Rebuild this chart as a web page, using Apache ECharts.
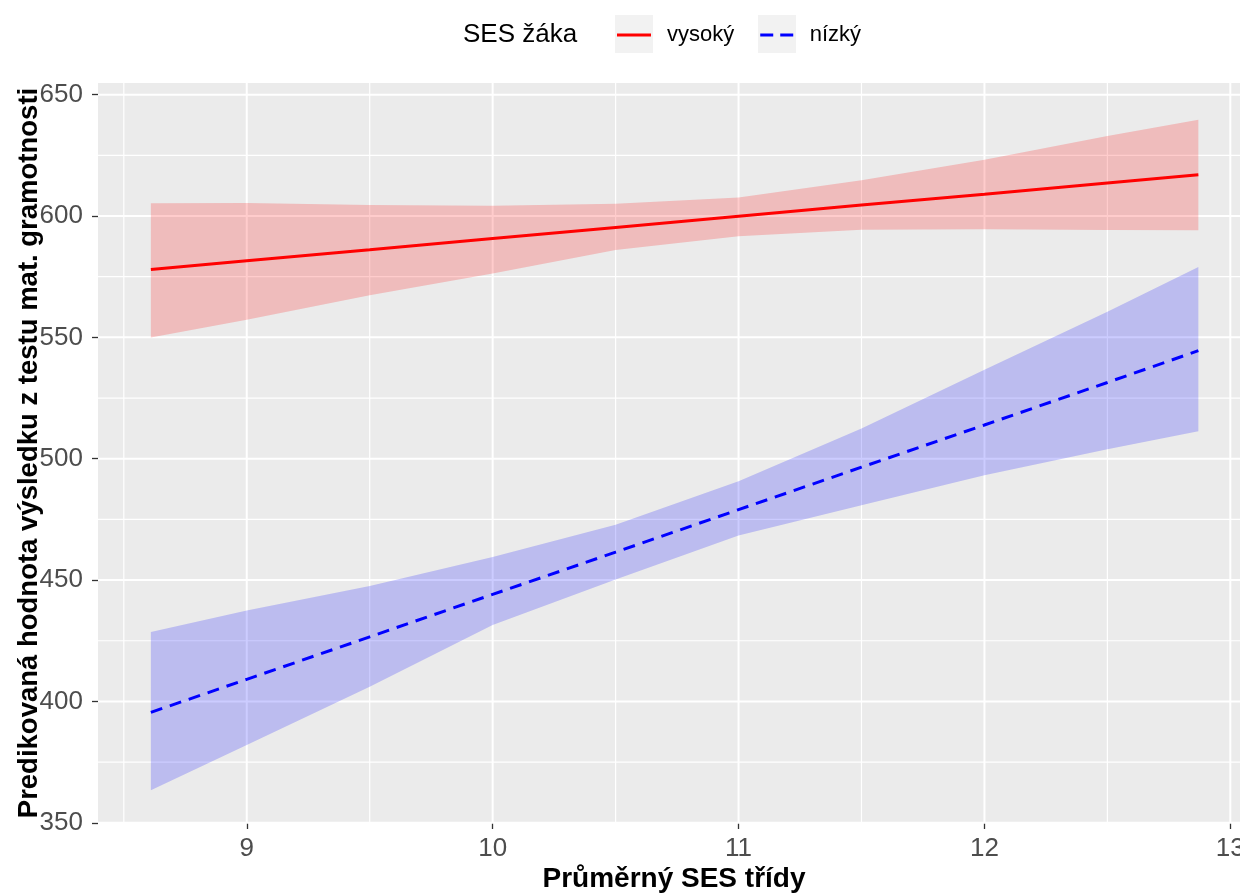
<!DOCTYPE html>
<html>
<head>
<meta charset="utf-8">
<script src="https://cdn.jsdelivr.net/npm/echarts@6/dist/echarts.min.js"></script>
<style>
  html, body { margin: 0; padding: 0; background: #ffffff; }
  #chart { width: 1240px; height: 894px; }
</style>
</head>
<body>
<div id="chart"></div>
<script>
// Predicted maths score by class-average SES, for high and low pupil SES
const xs        = [8.61, 9.0, 9.5, 10.0, 10.5, 11.0, 11.5, 12.0, 12.5, 12.87];

const highFit   = [578.0, 581.6, 586.1, 590.7, 595.3, 599.9, 604.5, 609.0, 613.6, 617.0];
const highLower = [549.9, 557.3, 567.3, 576.3, 586.0, 591.7, 594.3, 594.5, 594.2, 594.1];
const highUpper = [605.3, 605.4, 604.5, 604.2, 605.0, 607.6, 614.7, 623.2, 633.0, 639.7];

const lowFit    = [395.5, 409.1, 426.6, 444.1, 461.5, 479.0, 496.5, 513.9, 531.4, 544.5];
const lowLower  = [363.4, 382.0, 406.0, 431.5, 450.2, 468.4, 480.8, 493.2, 503.9, 511.3];
const lowUpper  = [428.6, 437.5, 447.5, 459.5, 472.8, 490.7, 512.4, 536.7, 560.6, 579.0];

const seriesNames = ['vysoký', 'nízký'];
const legendTitle = 'SES žáka';
const xTitle = 'Průměrný SES třídy';
const yTitle = 'Predikovaná hodnota výsledku z testu mat. gramotnosti';

const xTicks = [9, 10, 11, 12, 13];
const xMinor = [8.5, 9.5, 10.5, 11.5, 12.5];
const yTicks = [350, 400, 450, 500, 550, 600, 650];
const yMinor = [375, 425, 475, 525, 575, 625];

const X_MIN = 8.395, X_MAX = 13.08;
const Y_MIN = 349.9, Y_MAX = 654.8;

const FONT = 'Liberation Sans, Arial, sans-serif';

// legend keys: a solid bar and a two-dash bar
const SOLID_KEY = 'path://M0,0H34V3H0Z';
const DASH_KEY = 'path://M0,0H13V3H0Z M20,0H33V3H20Z';

// white panel grid lines, major and minor
function gridLines(values, isX, width) {
  return {
    type: 'custom', silent: true, z: 1,
    data: values.map(v => [v]),
    encode: isX ? { x: 0 } : { y: 0 },
    renderItem(params, api) {
      const cs = params.coordSys;
      const v = api.value(0);
      if (isX) {
        const p = api.coord([v, Y_MIN]);
        return { type: 'line', shape: { x1: p[0], y1: cs.y, x2: p[0], y2: cs.y + cs.height },
                 style: { stroke: '#ffffff', lineWidth: width } };
      }
      const p = api.coord([X_MIN, v]);
      return { type: 'line', shape: { x1: cs.x, y1: p[1], x2: cs.x + cs.width, y2: p[1] },
               style: { stroke: '#ffffff', lineWidth: width } };
    }
  };
}

// confidence ribbon drawn as one polygon
function ribbon(lo, hi, fill) {
  return {
    type: 'custom', silent: true, z: 2, clip: true,
    data: xs.map((x, i) => [x, lo[i], hi[i]]),
    encode: { x: 0, y: [1, 2] },
    renderItem(params, api) {
      if (params.dataIndex !== 0) return;
      const top = xs.map((x, i) => api.coord([x, hi[i]]));
      const bottom = xs.map((x, i) => api.coord([x, lo[i]])).reverse();
      return { type: 'polygon', shape: { points: top.concat(bottom) }, style: { fill: fill } };
    }
  };
}

const chart = echarts.init(document.getElementById('chart'), null, { renderer: 'canvas' });

chart.setOption({
  animation: false,
  backgroundColor: '#ffffff',
  title: {
    text: legendTitle, left: 463, top: 22, padding: 0,
    textStyle: { fontFamily: FONT, fontSize: 26, fontWeight: 'normal', color: '#000000' }
  },
  graphic: [
    { type: 'rect', z: 0, shape: { x: 615, y: 15, width: 38, height: 38 }, style: { fill: '#F2F2F2' } },
    { type: 'rect', z: 0, shape: { x: 758, y: 15, width: 38, height: 38 }, style: { fill: '#F2F2F2' } }
  ],
  legend: {
    z: 10,
    data: [
      { name: seriesNames[0], icon: SOLID_KEY },
      { name: seriesNames[1], icon: DASH_KEY }
    ],
    left: 617, top: 23, padding: 0,
    itemWidth: 34, itemHeight: 3, itemGap: 26,
    textStyle: { fontFamily: FONT, fontSize: 22, color: '#000000', lineHeight: 24, padding: [0, 0, 0, 11] }
  },
  grid: {
    left: 98, top: 83, width: 1152, height: 740,
    outerBoundsMode: 'none', containLabel: false,
    show: true, backgroundColor: '#EBEBEB', borderWidth: 0
  },
  xAxis: {
    type: 'value', min: X_MIN, max: X_MAX,
    name: xTitle, nameLocation: 'middle', nameGap: 42, nameMoveOverlap: false,
    nameTextStyle: { fontFamily: FONT, fontSize: 28, fontWeight: 'bold', color: '#000000' },
    axisLine: { show: false },
    axisTick: { show: true, customValues: xTicks, length: 6, lineStyle: { color: '#333333', width: 1.3 } },
    axisLabel: { customValues: xTicks, fontFamily: FONT, fontSize: 26, color: '#4D4D4D', margin: 13 },
    splitLine: { show: false }
  },
  yAxis: {
    type: 'value', min: Y_MIN, max: Y_MAX,
    name: yTitle, nameLocation: 'middle', nameGap: 55, nameRotate: 90, nameMoveOverlap: false,
    nameTextStyle: { fontFamily: FONT, fontSize: 27.5, fontWeight: 'bold', color: '#000000' },
    axisLine: { show: false },
    axisTick: { show: true, customValues: yTicks, length: 6, lineStyle: { color: '#333333', width: 1.3 } },
    axisLabel: { customValues: yTicks, fontFamily: FONT, fontSize: 26, color: '#4D4D4D', margin: 15 },
    splitLine: { show: false }
  },
  series: [
    gridLines(xMinor, true, 1.2),
    gridLines(yMinor, false, 1.2),
    gridLines(xTicks, true, 2),
    gridLines(yTicks, false, 2),
    ribbon(highLower, highUpper, 'rgba(255,0,0,0.2)'),
    ribbon(lowLower, lowUpper, 'rgba(0,0,255,0.2)'),
    {
      name: seriesNames[0], type: 'line', z: 3, symbol: 'none', silent: true,
      data: xs.map((x, i) => [x, highFit[i]]),
      lineStyle: { color: '#FF0000', width: 3, type: 'solid' },
      itemStyle: { color: '#FF0000' }
    },
    {
      name: seriesNames[1], type: 'line', z: 3, symbol: 'none', silent: true,
      data: xs.map((x, i) => [x, lowFit[i]]),
      lineStyle: { color: '#0000FF', width: 3, type: [12, 8] },
      itemStyle: { color: '#0000FF' }
    }
  ]
});
</script>
</body>
</html>
